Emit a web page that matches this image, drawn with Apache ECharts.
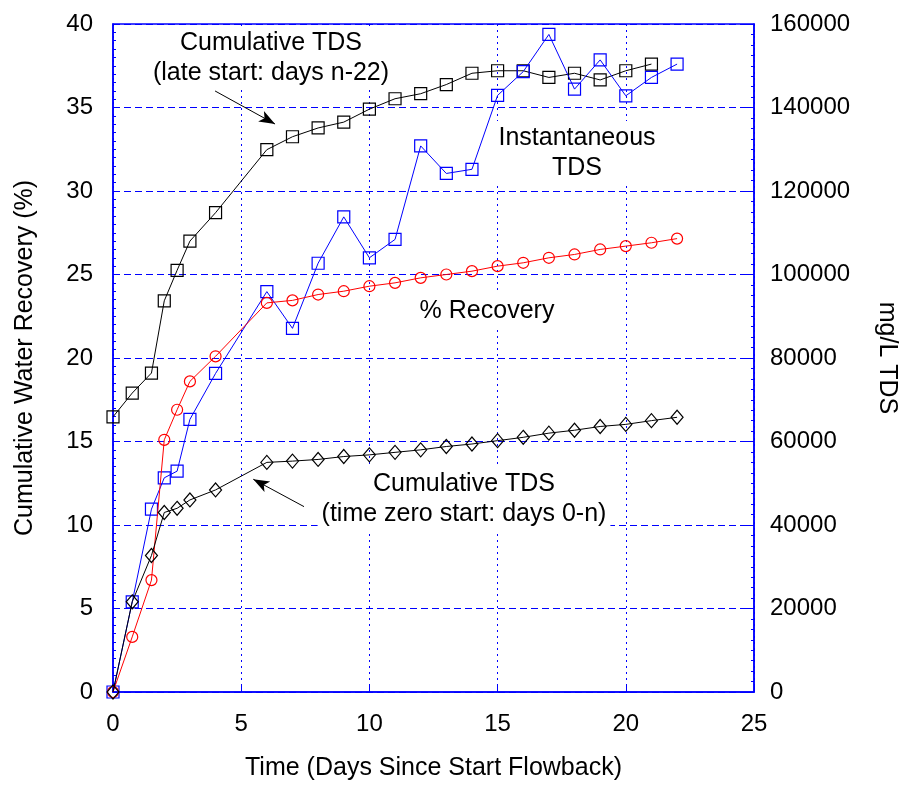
<!DOCTYPE html>
<html><head><meta charset="utf-8">
<script src="https://cdn.jsdelivr.net/npm/echarts@6/dist/echarts.min.js"></script>
<style>html,body{margin:0;padding:0;background:#fff}#c{width:901px;height:786px}</style>
</head><body><div id="c"></div>
<script>
// Time (days since start flowback)
const days = [0, 0.75, 1.5, 2, 2.5, 3, 4, 6, 7, 8, 9, 10, 11, 12, 13, 14, 15, 16, 17, 18, 19, 20, 21, 22];
// Cumulative water recovery (%)
const recovery = [0, 3.3, 6.7, 15.1, 16.9, 18.6, 20.1, 23.3, 23.45, 23.8, 24.0, 24.3, 24.5, 24.8, 25.0, 25.2, 25.5, 25.7, 26.0, 26.2, 26.5, 26.7, 26.9, 27.15];
// Instantaneous TDS (mg/L)
const instTDS = [0, 21600, 43800, 51300, 52900, 65300, 76300, 95900, 87100, 102700, 113800, 104000, 108400, 130800, 124200, 125200, 142900, 148600, 157500, 144400, 151400, 142800, 147200, 150400];
// Cumulative TDS, late start (mg/L), days 0..21
const cumTDSLate = [65900, 71600, 76400, 93700, 101000, 108000, 114800, 129900, 133000, 135100, 136500, 139600, 142100, 143300, 145500, 148200, 148800, 148800, 147200, 148200, 146600, 148800, 150400];
// Cumulative TDS, time zero start (mg/L)
const cumTDSZero = [0, 21600, 32700, 43000, 44000, 46000, 48400, 55000, 55300, 55700, 56400, 56800, 57400, 58000, 58800, 59400, 60200, 61000, 62000, 62700, 63600, 64100, 65000, 65800];

const xTicks = [0, 5, 10, 15, 20, 25];

const pairs = arr => arr.map((v, i) => [days[i], v]);
const BLUE = '#0000ff';
const FONT = '"Liberation Sans", Arial, sans-serif';

const chart = echarts.init(document.getElementById('c'), null, {renderer: 'canvas'});

function txt(x, y, s) {
  return {
    type: 'text', x: x, y: y, z: 100,
    style: {
      text: s, font: '25px ' + FONT, fill: '#000', align: 'center', verticalAlign: 'middle',
      lineHeight: 30, backgroundColor: '#fff', padding: [2, 4]
    }
  };
}

const option = {
  backgroundColor: '#fff',
  animation: false,
  grid: {left: 113, right: 147, top: 24, bottom: 94, containLabel: false, outerBoundsMode: 'none',
    show: true, borderColor: BLUE, borderWidth: 1.5, backgroundColor: 'transparent'},
  xAxis: {
    type: 'value', min: 0, max: 25, interval: 5,
    name: 'Time (Days Since Start Flowback)', nameLocation: 'middle', nameGap: 64,
    nameTextStyle: {fontFamily: FONT, fontSize: 25, color: '#000'},
    axisLine: {show: true, lineStyle: {color: BLUE, width: 1.5}},
    axisTick: {show: true, inside: true, length: 6, lineStyle: {color: BLUE}},
    axisLabel: {fontFamily: FONT, fontSize: 24, color: '#000', margin: 20,
      formatter: v => xTicks.includes(v) ? String(v) : ''},
    splitLine: {show: true, lineStyle: {color: BLUE, type: [2, 4], width: 1}}
  },
  yAxis: [{
    type: 'value', min: 0, max: 40, interval: 5, position: 'left',
    name: 'Cumulative Water Recovery (%)', nameLocation: 'middle', nameGap: 75, nameRotate: 90,
    nameTextStyle: {fontFamily: FONT, fontSize: 25, color: '#000'},
    axisLine: {show: true, lineStyle: {color: BLUE, width: 1.5}},
    axisTick: {show: true, inside: true, length: 7, lineStyle: {color: BLUE}},
    minorTick: {show: true, splitNumber: 10, length: 3, lineStyle: {color: BLUE}},
    axisLabel: {fontFamily: FONT, fontSize: 24, color: '#000', margin: 20},
    splitLine: {show: true, lineStyle: {color: BLUE, type: [7, 4], width: 1}}
  }, {
    type: 'value', min: 0, max: 160000, interval: 20000, position: 'right',
    name: 'mg/L TDS', nameLocation: 'middle', nameGap: 120, nameRotate: -90,
    nameTextStyle: {fontFamily: FONT, fontSize: 25, color: '#000'},
    axisLine: {show: true, lineStyle: {color: BLUE, width: 1.5}},
    axisTick: {show: true, inside: true, length: 7, lineStyle: {color: BLUE}},
    minorTick: {show: true, splitNumber: 8, length: 3, lineStyle: {color: BLUE}},
    axisLabel: {fontFamily: FONT, fontSize: 24, color: '#000', margin: 16, formatter: v => String(v)},
    splitLine: {show: false}
  }],
  series: [{
    name: 'Cumulative TDS (late start)', type: 'line', yAxisIndex: 1,
    data: pairs(cumTDSLate),
    symbol: 'rect', symbolSize: 12,
    lineStyle: {color: '#000', width: 1},
    itemStyle: {color: 'rgba(0,0,0,0)', borderColor: '#000', borderWidth: 1.2},
    z: 3
  }, {
    name: 'Instantaneous TDS', type: 'line', yAxisIndex: 1,
    data: pairs(instTDS),
    symbol: 'rect', symbolSize: 12,
    lineStyle: {color: BLUE, width: 1},
    itemStyle: {color: 'rgba(0,0,0,0)', borderColor: BLUE, borderWidth: 1.2},
    z: 4
  }, {
    name: '% Recovery', type: 'line', yAxisIndex: 0,
    data: pairs(recovery),
    symbol: 'circle', symbolSize: 11,
    lineStyle: {color: '#ff0000', width: 1},
    itemStyle: {color: 'rgba(0,0,0,0)', borderColor: '#ff0000', borderWidth: 1.2},
    z: 5,
    markLine: {
      silent: true, symbol: ['none', 'arrow'], symbolSize: [9, 16],
      label: {show: false},
      lineStyle: {color: '#000', width: 1, type: 'solid'},
      data: [
        [{coord: [3.98, 35.99]}, {coord: [6.32, 34.01]}],
        [{coord: [7.45, 11.1]}, {coord: [5.47, 12.74]}]
      ]
    }
  }, {
    name: 'Cumulative TDS (time zero)', type: 'line', yAxisIndex: 1,
    data: pairs(cumTDSZero),
    symbol: 'diamond', symbolSize: [12, 14],
    lineStyle: {color: '#000', width: 1},
    itemStyle: {color: 'rgba(0,0,0,0)', borderColor: '#000', borderWidth: 1.2},
    z: 6
  }],
  graphic: [
    txt(271, 58, 'Cumulative TDS\n(late start: days n-22)'),
    txt(577, 153, 'Instantaneous\nTDS'),
    txt(487, 311, '% Recovery'),
    txt(464, 499, 'Cumulative TDS\n(time zero start: days 0-n)')
  ]
};
chart.setOption(option);
</script></body></html>
